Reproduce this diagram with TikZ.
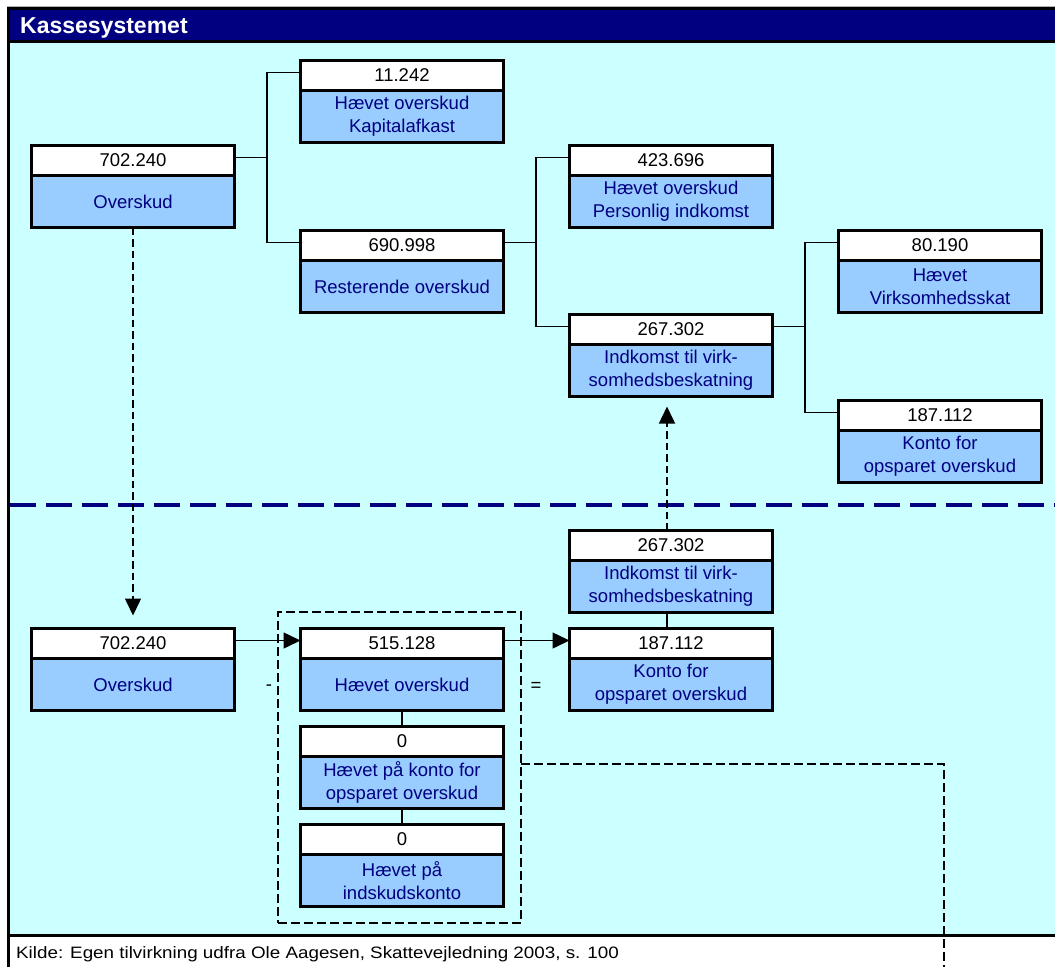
\documentclass[tikz,border=0pt]{standalone}
\usepackage{fontspec}
\setmainfont{Liberation Sans}
\usetikzlibrary{arrows.meta,calc}
\definecolor{navyc}{HTML}{000080}
\definecolor{cyanbg}{HTML}{CCFFFF}
\definecolor{boxblue}{HTML}{99CCFF}
\tikzset{
  valbox/.style={draw=black, line width=3pt, fill=white, minimum width=203pt,
    minimum height=30pt, inner sep=0pt, outer sep=0pt,
    font=\fontsize{18.5}{23}\selectfont, text=black, anchor=north},
  lblbox/.style={draw=black, line width=3pt, fill=boxblue, minimum width=203pt,
    minimum height=52pt, inner sep=0pt, outer sep=0pt,
    font=\fontsize{18.5}{23}\selectfont, text=navyc, align=center, anchor=north},
  conn/.style={line width=1.5pt, draw=black},
  arr/.style={conn, -{Triangle[length=17pt,width=16pt]}},
  dashconn/.style={line width=1.5pt, draw=black, dash pattern=on 7.5pt off 4pt},
  dasharr/.style={dashconn, -{Triangle[length=17pt,width=16pt]}},
  opsign/.style={font=\fontsize{18.5}{23}\selectfont, text=black, inner sep=0pt},
}
\newcommand\kbox[5]{%
  \node[valbox] (#1v) at (#2+103,#3+1.5) {#4};
  \node[lblbox] (#1l) at (#1v.south) {#5};
}
\begin{document}
\begin{tikzpicture}[x=1pt,y=-1pt]
\useasboundingbox (0,0) rectangle (1055,967);
% frame and backgrounds
\fill[white] (0,0) rectangle (1055,967);
\fill[cyanbg] (8,42) rectangle (1055,935);
\fill[navyc] (8,8) rectangle (1055,42);
\draw[gray!60, line width=1pt] (7,6.5) -- (1055,6.5);
\draw[line width=3pt] (7,8.5) -- (1055,8.5);
\draw[line width=3pt] (7,41.5) -- (1055,41.5);
\draw[line width=3.3pt] (7,935.5) -- (1055,935.5);
\draw[line width=3pt] (8.5,7) -- (8.5,967);
\node[anchor=base west, text=white, font=\bfseries\fontsize{23}{27}\selectfont, inner sep=0pt] (title) at (20,33) {Kassesystemet};
\node[anchor=base west, text=black, font=\fontsize{16.5}{20}\selectfont, inner sep=0pt] (src) at (16,958) {\scalebox{1.14}[1]{Kilde: Egen tilvirkning udfra Ole Aagesen, Skattevejledning 2003, s. 100}};
% divider
\draw[navyc, line width=4pt, dash pattern=on 26pt off 10pt] (10,505) -- (1055,505);
% group rectangle
\node[draw=black, line width=1.5pt, dash pattern=on 9pt off 4pt, minimum width=243pt, minimum height=311pt, inner sep=0pt, outer sep=0pt, anchor=north west] (grp) at (278,612) {};
% boxes
\kbox{A}{30}{144}{702.240}{Overskud}
\kbox{B}{299}{59}{11.242}{Hævet overskud\\Kapitalafkast}
\kbox{C}{299}{229}{690.998}{Resterende overskud}
\kbox{D}{568}{144}{423.696}{Hævet overskud\\Personlig indkomst}
\kbox{E}{568}{313}{267.302}{Indkomst til virk-\\somhedsbeskatning}
\kbox{F}{837}{229}{80.190}{Hævet\\Virksomhedsskat}
\kbox{G}{837}{399}{187.112}{Konto for\\opsparet overskud}
\kbox{H}{30}{627}{702.240}{Overskud}
\kbox{I}{299}{627}{515.128}{Hævet overskud}
\kbox{J}{299}{725}{0}{Hævet på konto for\\opsparet overskud}
\kbox{K}{299}{823}{0}{Hævet på\\indskudskonto}
\kbox{L}{568}{529}{267.302}{Indkomst til virk-\\somhedsbeskatning}
\kbox{M}{568}{627}{187.112}{Konto for\\opsparet overskud}
% tree connectors (upper part)
\draw[conn] ([yshift=3pt]Av.east) -- ++(32.5,0) |- ([yshift=3pt]Bv.west);
\draw[conn] ([yshift=3pt]Av.east) -- ++(32.5,0) |- ([yshift=3pt]Cv.west);
\draw[conn] ([yshift=3pt]Cv.east) -- ++(32.5,0) |- ([yshift=3pt]Dv.west);
\draw[conn] ([yshift=3pt]Cv.east) -- ++(32.5,0) |- ([yshift=3pt]Ev.west);
\draw[conn] ([yshift=3pt]Ev.east) -- ++(32.5,0) |- ([yshift=3pt]Fv.west);
\draw[conn] ([yshift=3pt]Ev.east) -- ++(32.5,0) |- ([yshift=3pt]Gv.west);
% lower part
\draw[arr] ([yshift=3pt]Hv.east) -- ([yshift=3pt]Iv.west);
\draw[arr] ([yshift=3pt]Iv.east) -- ([yshift=3pt]Mv.west);
\draw[conn] (Il.south) -- (Jv.north);
\draw[conn] (Jl.south) -- (Kv.north);
\draw[conn] ([xshift=-4pt]Ll.south) -- ([xshift=-4pt]Mv.north);
\draw[dasharr] (Al.south) -- ([yshift=13pt]Hv.north);
\draw[dasharr] ([xshift=-4pt]Lv.north) -- ([xshift=-4pt,yshift=-10pt]El.south);
\coordinate (endc) at (944,967);
\draw[dashconn, dash pattern=on 9pt off 4pt] ([yshift=3.5pt]grp.east) -| (endc);
% operator signs
\node[opsign] (minus) at (269,688) {-};
\node[opsign] (equals) at (536,687) {=};
\end{tikzpicture}
\end{document}
